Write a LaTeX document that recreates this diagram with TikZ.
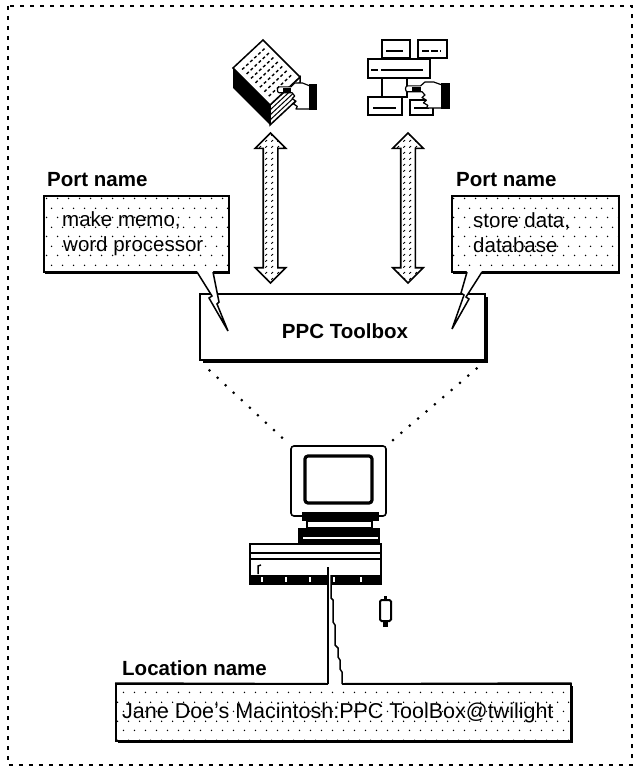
\documentclass[tikz,border=0pt]{standalone}
\usepackage{fontspec}
\setmainfont{Liberation Sans}
\usetikzlibrary{patterns.meta,shapes.arrows,shadows,calc}

% sparse screen-dot fill used in the name boxes
\tikzdeclarepattern{
  name=screendots, type=uncolored,
  bottom left={(0pt,0pt)}, top right={(11pt,19pt)}, tile size={(11pt,19pt)},
  code={\fill (2.75pt,4.75pt) circle (0.85pt); \fill (8.25pt,14.25pt) circle (0.85pt);}
}
% short slanted marks inside the double arrows
\tikzdeclarepattern{
  name=hatchmarks, type=uncolored,
  bottom left={(0pt,0pt)}, top right={(6pt,6pt)}, tile size={(6pt,6pt)},
  code={\draw[line width=0.9pt] (1.5pt,1.5pt) -- (3.5pt,3.5pt);}
}

\tikzset{
  outline/.style={line width=1.5pt},
  labeltext/.style={font=\fontsize{20.5}{24}\selectfont\bfseries, inner sep=0pt, anchor=base west},
  bodytext/.style={font=\fontsize{20.5}{25}\selectfont, inner sep=0pt, anchor=base west},
  namebox/.style n args={2}{draw, outline, inner sep=0pt, anchor=north west,
    drop shadow={shadow xshift=#1, shadow yshift=-#2, fill=black, opacity=1},
    preaction={fill=white}, pattern=screendots, pattern color=black},
  flowarrow/.style={double arrow, draw, line width=1.6pt, preaction={fill=white}, pattern=hatchmarks,
    rotate=90, minimum height=150pt, minimum width=29pt, double arrow head extend=8pt, inner sep=6.5pt},
  viewline/.style={line width=3pt, line cap=round, dash pattern=on 0pt off 11pt},
  hand/.pic={
    \draw[line width=1.2pt, fill=white, line join=round]
      (0,-8) -- (-5,-10) -- (-11,-10) -- (-14,-7) -- (-23,-7) to[out=180,in=180] (-23,-2.5)
      -- (-13,-2.5) -- (-11,0) -- (-13,2) -- (-10,4) -- (-12,6) -- (-9,8) -- (-10,10) -- (0,10);
    \fill (0,-9) rectangle (6,11);
    \fill (-20,-6.5) rectangle (-14,-3);
  }
}

\begin{document}
\begin{tikzpicture}[x=1pt,y=-1pt]
\useasboundingbox (0,0) rectangle (639,773);

% outer frame
\draw[line width=2.5pt, dash pattern=on 4pt off 6pt] (8,6) rectangle (632,765);

% ---- document icon: binder with pointing hand
\fill (233,68) -- (270,105) -- (270,125) -- (233,88) -- cycle;
\draw[outline, fill=white] (270,105) -- (300,77) -- (300,97) -- (270,125) -- cycle;
\foreach \k in {1,2,3} \draw[line width=1pt] (270,105+5*\k) -- (300,77+5*\k);
\draw[outline, fill=white] (233,68) -- (263,40) -- (300,77) -- (270,105) -- cycle;
\foreach \t in {0.14,0.26,...,0.86}
  \draw[line width=1.4pt, dash pattern=on 3pt off 2.5pt] ($(233,68)!\t!(270,105) + (4,-3.7)$) -- ++(23,-21.5);
\pic[scale=1.3] at (309,96) {hand};
\coordinate (docicon) at (270,125);

% ---- database icon: stacked record blocks with pointing hand
\draw[outline, fill=white] (382,40) rectangle (410,58);
\draw[line width=1.2pt] (386,51) -- (403,51);
\draw[outline, fill=white] (418,40) rectangle (447,58);
\draw[line width=1.2pt, dash pattern=on 7pt off 2pt] (422,51) -- (441,51);
\draw[outline, fill=white] (382,78) rectangle (407,97);
\draw[outline, fill=white] (368,97) rectangle (402,115);
\draw[line width=1.2pt] (373,108) -- (396,108);
\draw[outline, fill=white] (410,100) rectangle (433,115);
\draw[line width=1.2pt] (414,108) -- (429,108);
\draw[outline, fill=white] (368,59) rectangle (430,78);
\draw[line width=1.2pt] (371,70) -- (378,70) (381,70) -- (423,70);
\pic[xscale=1.46, yscale=1.3] at (441,95) {hand};
\coordinate (dbicon) at (408,118);

% ---- PPC Toolbox
\node[draw, outline, fill=white, minimum width=285pt, minimum height=66pt, inner sep=0pt,
  drop shadow={shadow xshift=3pt, shadow yshift=-3pt, fill=black, opacity=1}] (ppc) at (342.5,327) {};
\node[labeltext, anchor=base] (ppc-label) at (345,338) {PPC Toolbox};

% ---- data flow between the applications and the toolbox
\node[flowarrow] (flow-doc) at (270.5,208) {};
\node[flowarrow] (flow-db) at (408,208) {};

% ---- port names
\node[labeltext] (port-label-l) at (47,186) {Port name};
\node[namebox={1pt}{2pt}, minimum width=185pt, minimum height=76pt] (port-l) at (43,195) {};
\node[bodytext] (port-text-l1) at (62,226) {make memo,};
\node[bodytext] (port-text-l2) at (63,251) {word processor};

\node[labeltext] (port-label-r) at (456,186) {Port name};
\node[namebox={1pt}{2pt}, minimum width=167pt, minimum height=76pt] (port-r) at (451,195) {};
\node[bodytext] (port-text-r1) at (473,227) {store data,};
\node[bodytext] (port-text-r2) at (473,252) {database};

% callout pointers into the toolbox
\path[fill=white] (197,271) -- (212,296) -- (209,298) -- (228,331) -- (217,304) -- (219,302) -- (213,271) -- cycle;
\draw[outline] (197,272) -- (212,296) -- (209,298) -- (228,331) -- (217,304) -- (219,302) -- (213,272);
\path[fill=white] (467,271) -- (461,293) -- (464,295) -- (452,329) -- (469,299) -- (466,297) -- (482,271) -- cycle;
\draw[outline] (467,272) -- (461,293) -- (464,295) -- (452,329) -- (469,299) -- (466,297) -- (482,272);

% ---- computer
\draw[line width=1.6pt, fill=white, rounded corners=3pt] (291,446) rectangle (386,516);
\draw[line width=3.2pt, rounded corners=3pt] (305,456) rectangle (372,503);
\fill (302,512) rectangle (379,521);
\draw[outline, fill=white] (307,521) rectangle (372,528);
\fill (298,528) rectangle (380,543);
\fill[white] (303,536.5) rectangle (378,538.5);
\draw[line width=1.6pt, fill=white] (250,544) rectangle (381,584);
\draw[line width=1.2pt] (251,553) -- (380,553);
\draw[line width=2.4pt] (251,559) -- (380,559);
\fill (250,575) rectangle (381,584);
\foreach \sx in {262,286,310,334,361} \fill[white] (\sx-1,577) rectangle (\sx+1,582);
\draw[line width=1.5pt] (258,574) -- (258,566) -- (261,565);
\coordinate (mon-nw) at (291,446);
\coordinate (mon-ne) at (386,446);

% view lines from the toolbox down to the machine
\draw[viewline, shorten <=14pt, shorten >=5pt] (ppc.south west) -- (mon-nw);
\draw[viewline, shorten <=12pt, shorten >=5pt] (ppc.south east) -- (mon-ne);

% connector plug
\draw[line width=2pt, rounded corners=1.5pt] (380,600) rectangle (391,621);
\fill (384,596) rectangle (387,600);
\fill (383,621) rectangle (388,627);

% ---- location name
\node[labeltext] (loc-label) at (122,675) {Location name};
\node[namebox={2pt}{2pt}, minimum width=455pt, minimum height=57pt] (loc) at (115,683) {};
\node[bodytext, font=\fontsize{21.5}{25}\selectfont] (loc-text) at (122,718) {Jane Doe's Macintosh:PPC ToolBox@twilight};

% network cable from the machine into the location box
\coordinate (cable-top) at (328,567);
\fill[white] (cable-top) -- (328,687) -- (342,687) -- (342,672) -- (340,669) -- (340,660) -- (338,657)
  -- (338,648) -- (335,645) -- (335,625) -- (333,622) -- (333,600) -- (331,598) -- (331,567) -- cycle;
\draw[outline] (cable-top) -- (328,684);
\draw[outline] (331,575) -- (331,598) -- (333,600) -- (333,622) -- (335,625) -- (335,645) -- (338,648)
  -- (338,657) -- (340,660) -- (340,669) -- (342,672) -- (342,684);
\draw[outline] (loc.north west) -- (328,683.75);
\draw[outline] (342,683.75) -- (loc.north east);

\end{tikzpicture}
\end{document}
